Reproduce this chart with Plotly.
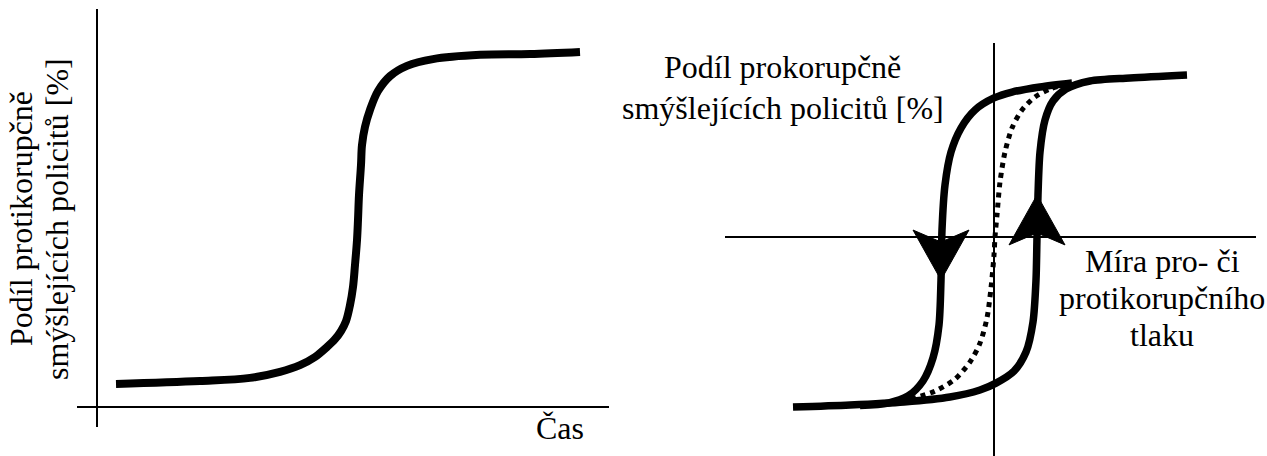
import plotly.graph_objects as go

W, H = 1267, 456
FONT = "Liberation Serif"

# ---- Left chart: share of anti-corruption police officers over time ----
time_vals = [3.8, 20.6, 30.6, 36.6, 40.6, 43.6, 46.0, 47.6, 48.8, 49.8, 50.6, 51.2, 51.6, 52.0,
             52.2, 52.4, 52.8, 53.0, 53.6, 54.6, 56.2, 58.6, 62.0, 67.2, 76.6, 86.6, 96.6]
share_vals = [6.5, 7.3, 8.2, 9.9, 11.8, 14.1, 16.9, 19.1, 21.4, 24.2, 28.7, 33.8, 40.0, 47.0,
              52.7, 59.7, 68.2, 73.8, 78.9, 83.7, 89.0, 93.2, 96.1, 98.0, 99.2, 99.4, 100.0]

# ---- Right chart: hysteresis loop ----
rise_x = [-100.5, -72, -45, -22, -7, 1, 10, 16, 19.5, 21, 21.5, 22, 23, 25.5, 29.5, 36, 48, 68, 96.5]
rise_y = [-106.3, -105, -103.1, -100, -95.6, -91.3, -83.8, -71.9, -53.1, -26.9, 0, 26.3,
          53.1, 73.1, 85, 92.5, 97.5, 99.4, 101.3]
fall_x = [39, 23, 9, 0, -9.5, -16.5, -21.5, -24.5, -26, -26.5, -27.5, -30.5, -35.5, -43, -53, -67]
fall_y = [96.3, 93.8, 90.6, 86.9, 79.4, 68.1, 53.1, 32.5, 4.4, -26.9, -55, -75.6, -90, -99.4,
          -103.8, -105.3]
mid_x = [-41.5, -29.5, -19.5, -12, -7, -3.5, -1.5, 0, 0.5, 1.5, 3, 5.5, 9, 14, 20.5, 28, 36]
mid_y = [-101.3, -96.3, -88.8, -78.1, -66.3, -50.6, -31.9, -11.3, 0, 13.8, 34.4, 53.1, 68.1,
         79.4, 87.5, 92.5, 95.6]

# arrows on the loop: x position, tip y, direction (-1 down, +1 up)
arrow_x = [-26.5, 21.5]
arrow_tip_y = [-26.9, 26.3]
arrow_dir = [-1, 1]

# text labels
left_ylabel = ["Podíl protikorupčně", "smýšlejících policitů [%]"]
left_xlabel = "Čas"
right_ylabel = ["Podíl prokorupčně", "smýšlejících policitů [%]"]
right_xlabel = ["Míra pro- či", "protikorupčního", "tlaku"]

fig = go.Figure()

fig.add_trace(go.Scatter(x=time_vals, y=share_vals, mode="lines",
                         line=dict(color="black", width=8, shape="spline", smoothing=1.0),
                         xaxis="x", yaxis="y", hoverinfo="skip"))

fig.add_trace(go.Scatter(x=rise_x, y=rise_y, mode="lines",
                         line=dict(color="black", width=7.5, shape="spline", smoothing=0.8),
                         xaxis="x2", yaxis="y2", hoverinfo="skip"))
fig.add_trace(go.Scatter(x=fall_x, y=fall_y, mode="lines",
                         line=dict(color="black", width=7.5, shape="spline", smoothing=0.8),
                         xaxis="x2", yaxis="y2", hoverinfo="skip"))
fig.add_trace(go.Scatter(x=mid_x, y=mid_y, mode="lines",
                         line=dict(color="black", width=5, dash="dot", shape="spline", smoothing=0.8),
                         xaxis="x2", yaxis="y2", hoverinfo="skip"))

# arrowheads (stealth style) built from the arrow data
AL, AW, AN = 31.25, 14.0, 7.5  # length (y units), half width (x units), notch depth
for ax_, ty, d in zip(arrow_x, arrow_tip_y, arrow_dir):
    back = ty - d * AL
    notch = back + d * AN
    fig.add_trace(go.Scatter(
        x=[ax_, ax_ - AW, ax_, ax_ + AW, ax_],
        y=[ty, back, notch, back, ty],
        mode="lines", fill="toself", fillcolor="black",
        line=dict(color="black", width=1),
        xaxis="x2", yaxis="y2", hoverinfo="skip"))

axis_common = dict(showgrid=False, showticklabels=False, ticks="", showline=False,
                   zeroline=True, zerolinecolor="black", zerolinewidth=2, fixedrange=True)

fig.update_layout(
    width=W, height=H,
    margin=dict(l=0, r=0, t=0, b=0),
    paper_bgcolor="white", plot_bgcolor="rgba(0,0,0,0)",
    showlegend=False,
    font=dict(family=FONT, color="black"),
    xaxis=dict(domain=[77 / W, 609 / W], range=[-4, 102.4], **axis_common),
    yaxis=dict(domain=[1 - 427 / H, 1 - 9 / H], range=[-5.63, 112.11], **axis_common),
    xaxis2=dict(domain=[725 / W, 1256 / W], range=[-134.5, 131], anchor="y2", **axis_common),
    yaxis2=dict(domain=[0, 1 - 43 / H], range=[-136.875, 121.25], anchor="x2", **axis_common),
)


def px(x):
    return x / W


def py(y):
    return 1 - y / H


FS = 32
ann = []
ann.append(dict(text=left_ylabel[0], x=px(21), y=py(219), textangle=-90))
ann.append(dict(text=left_ylabel[1], x=px(57), y=py(219), textangle=-90))
ann.append(dict(text=left_xlabel, x=px(560), y=py(428)))
ann.append(dict(text=right_ylabel[0], x=px(783), y=py(67)))
ann.append(dict(text=right_ylabel[1], x=px(783), y=py(108)))
for i, t in enumerate(right_xlabel):
    ann.append(dict(text=t, x=px(1162), y=py(261 + 37 * i)))
for a in ann:
    a.update(xref="paper", yref="paper", showarrow=False, xanchor="center", yanchor="middle",
             font=dict(size=FS, family=FONT, color="black"))
fig.update_layout(annotations=ann)

fig.write_html("out.html", config=dict(displayModeBar=False, staticPlot=True),
               post_script="document.body.style.margin='0';document.body.style.overflow='hidden';")
